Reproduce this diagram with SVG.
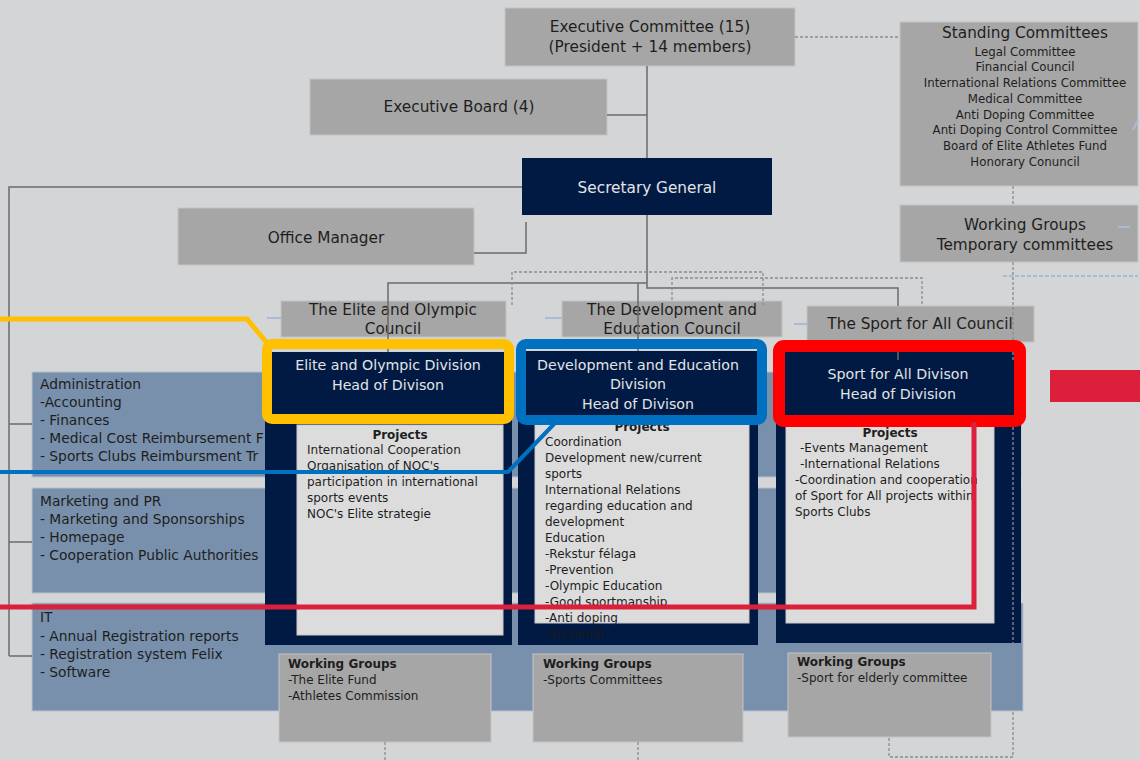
<svg xmlns="http://www.w3.org/2000/svg" width="1140" height="760" viewBox="0 0 1140 760">
<defs>
<style>
text{font-family:"DejaVu Sans","Liberation Sans",sans-serif;fill:#1e1e1e}
.gbox{fill:#a6a6a6;stroke:#c4c4c4;stroke-width:1}
.navy{fill:#001a44}
.inner{fill:#dcdcdc;stroke:#c8c8c8;stroke-width:1}
.row{fill:#7890ab;stroke:#b8c2ce;stroke-width:1}
.t15{font-size:15.3px;text-anchor:middle}
.t14w{font-size:14.2px;text-anchor:middle;fill:#e4e4e4}
.sc{font-size:11.8px;text-anchor:middle}
.p{font-size:12px}
.pb{font-size:12px;font-weight:bold}
.l{font-size:13.8px}
.solid{fill:none;stroke:#6b6b6b;stroke-width:1.5}
.dash{fill:none;stroke:#8c8c8c;stroke-width:1.3;stroke-dasharray:3 2}
.lb{fill:none;stroke:#a9bcd5;stroke-width:2}
</style>
<clipPath id="c3"><rect x="786" y="420" width="191" height="203"/></clipPath>
</defs>
<rect width="1140" height="760" fill="#d4d5d7"/>

<g id="rows">
<rect class="row" x="32" y="372" width="989" height="105"/>
<rect class="row" x="32" y="488" width="989" height="105"/>
<rect class="row" x="32" y="603" width="991" height="108"/>
</g>

<g id="administration">
<text class="l" x="40" y="389">Administration</text>
<text class="l" x="40" y="407">-Accounting</text>
<text class="l" x="40" y="425">-  Finances</text>
<text class="l" x="40" y="443">- Medical Cost Reimbursement F</text>
<text class="l" x="40" y="461">-  Sports Clubs Reimbursment Tr</text>
</g>
<g id="marketing">
<text class="l" x="40" y="506">Marketing and PR</text>
<text class="l" x="40" y="524">-  Marketing and Sponsorships</text>
<text class="l" x="40" y="542">-  Homepage</text>
<text class="l" x="40" y="560">-  Cooperation Public Authorities</text>
</g>
<g id="it">
<text class="l" x="40" y="622">IT</text>
<text class="l" x="40" y="641">-  Annual Registration reports</text>
<text class="l" x="40" y="659">-  Registration system Felix</text>
<text class="l" x="40" y="677">-  Software</text>
</g>

<g id="elite-column">
<rect class="navy" x="265" y="352" width="247" height="293"/>
<rect class="inner" x="297" y="425" width="206" height="210"/>
<text class="pb" x="400" y="439" text-anchor="middle">Projects</text>
<text class="p" x="307" y="454">International Cooperation</text>
<text class="p" x="307" y="470">Organisation of NOC's</text>
<text class="p" x="307" y="486">participation in international</text>
<text class="p" x="307" y="502">sports events</text>
<text class="p" x="307" y="518">NOC's Elite strategie</text>
</g>
<g id="development-column">
<rect class="navy" x="518" y="351" width="240" height="294"/>
<rect class="inner" x="535" y="420" width="214" height="203"/>
<text class="pb" x="642" y="431" text-anchor="middle">Projects</text>
<text class="p" x="545" y="446">Coordination</text>
<text class="p" x="545" y="462">Development new/current</text>
<text class="p" x="545" y="478">sports</text>
<text class="p" x="545" y="494">International Relations</text>
<text class="p" x="545" y="510">regarding education and</text>
<text class="p" x="545" y="526">development</text>
<text class="p" x="545" y="542">Education</text>
<text class="p" x="545" y="558">-Rekstur félaga</text>
<text class="p" x="545" y="574">-Prevention</text>
<text class="p" x="545" y="590">-Olympic Education</text>
<text class="p" x="545" y="606">-Good sportmanship</text>
<text class="p" x="545" y="622">-Anti doping</text>
<text class="p" x="545" y="638" style="fill:#1a1a1a">-Slysamál</text>
</g>
<g id="sport-column">
<rect class="navy" x="776" y="352" width="245" height="291"/>
<rect class="inner" x="786" y="420" width="208" height="203"/>
<g clip-path="url(#c3)">
<text class="pb" x="890" y="437" text-anchor="middle">Projects</text>
<text class="p" x="800" y="452">-Events Management</text>
<text class="p" x="800" y="468">-International Relations</text>
<text class="p" x="795" y="484">-Coordination and cooperation</text>
<text class="p" x="795" y="500">of Sport for All projects within</text>
<text class="p" x="795" y="516">Sports Clubs</text>
</g>
</g>

<g id="working-groups-elite">
<rect class="gbox" x="279" y="654" width="212" height="88"/>
<text class="pb" x="288" y="668">Working Groups</text>
<text class="p" x="288" y="684">-The Elite Fund</text>
<text class="p" x="288" y="700">-Athletes Commission</text>
</g>
<g id="working-groups-development">
<rect class="gbox" x="533" y="654" width="210" height="88"/>
<text class="pb" x="543" y="668">Working Groups</text>
<text class="p" x="543" y="684">-Sports Committees</text>
</g>
<g id="working-groups-sport">
<rect class="gbox" x="788" y="653" width="203" height="84"/>
<text class="pb" x="797" y="666">Working Groups</text>
<text class="p" x="797" y="682">-Sport for elderly committee</text>
</g>

<g id="executive-committee">
<rect class="gbox" x="505" y="8" width="290" height="58"/>
<text class="t15" x="650" y="32">Executive Committee (15)</text>
<text class="t15" x="650" y="52">(President + 14 members)</text>
</g>
<g id="executive-board">
<rect class="gbox" x="310" y="79" width="297" height="56"/>
<text class="t15" x="459" y="112">Executive Board (4)</text>
</g>
<g id="secretary-general">
<rect class="navy" x="522" y="158" width="250" height="57"/>
<text class="t15" x="647" y="193" style="fill:#e4e4e4">Secretary General</text>
</g>
<g id="office-manager">
<rect class="gbox" x="178" y="208" width="296" height="57"/>
<text class="t15" x="326" y="243">Office Manager</text>
</g>
<g id="standing-committees">
<rect class="gbox" x="900" y="22" width="238" height="164"/>
<text class="t15" x="1025" y="38">Standing Committees</text>
<text class="sc" x="1025" y="56">Legal Committee</text>
<text class="sc" x="1025" y="71">Financial Council</text>
<text class="sc" x="1025" y="87">International Relations Committee</text>
<text class="sc" x="1025" y="103">Medical Committee</text>
<text class="sc" x="1025" y="119">Anti Doping Committee</text>
<text class="sc" x="1025" y="134">Anti Doping Control Committee</text>
<text class="sc" x="1025" y="150">Board of Elite Athletes Fund</text>
<text class="sc" x="1025" y="166">Honorary Conuncil</text>
</g>
<g id="working-groups-temporary">
<rect class="gbox" x="900" y="205" width="238" height="57"/>
<text class="t15" x="1025" y="230">Working Groups</text>
<text class="t15" x="1025" y="250">Temporary committees</text>
</g>

<g id="elite-council">
<rect class="gbox" x="281" y="301" width="225" height="36"/>
<text class="t15" x="393" y="315">The Elite and Olympic</text>
<text class="t15" x="393" y="334">Council</text>
</g>
<g id="development-council">
<rect class="gbox" x="562" y="301" width="220" height="36"/>
<text class="t15" x="672" y="315">The Development and</text>
<text class="t15" x="672" y="334">Education Council</text>
</g>
<g id="sport-council">
<rect class="gbox" x="807" y="306" width="227" height="36"/>
<text class="t15" x="920" y="329">The Sport for All Council</text>
</g>

<g id="connectors">
<path class="solid" d="M647,66 V158 M607,115 H647 M647,215 V288 H898 V306 M898,342 V360 M388,352 V283 H647 M638,283 V352"/>
<path class="solid" d="M522,187 H9 V656 M9,424 H32 M9,542 H32 M9,656 H32"/>
<path class="solid" d="M474,253 H526 V222"/>
<path class="dash" d="M795,37 H900 M1013,186 V205 M1013,262 V757 H889 V737 M512,305 V272 H763 V305 M672,300 V278 H922 V306 M385,742 V760 M638,742 V760"/>
<path class="lb" d="M1003,276 H1138" stroke-dasharray="4 2"/>
<path class="lb" d="M267,318 H281 M545,318 H562 M794,324 H807 M1118,227 H1130 M1133,130 L1138,120"/>
</g>

<g id="elite-division">
<rect class="navy" x="274" y="352" width="229" height="61"/>
<text class="t14w" x="388" y="370">Elite and Olympic Division</text>
<text class="t14w" x="388" y="390">Head of Divison</text>
</g>
<g id="development-division">
<rect class="navy" x="527" y="351" width="230" height="62"/>
<text class="t14w" x="638" y="370">Development and Education</text>
<text class="t14w" x="638" y="389">Division</text>
<text class="t14w" x="638" y="409">Head of Divison</text>
</g>
<g id="sport-division">
<rect class="navy" x="786" y="360" width="228" height="55"/>
<text class="t14w" x="898" y="379">Sport for All Divison</text>
<text class="t14w" x="898" y="399">Head of Division</text>
</g>

<g id="highlights">
<rect x="267" y="344" width="242" height="75" rx="5" fill="none" stroke="#ffc000" stroke-width="10"/>
<path d="M0,319 H247 L267,343" fill="none" stroke="#ffc000" stroke-width="5"/>
<rect x="521" y="344" width="241" height="76" rx="5" fill="none" stroke="#0070c0" stroke-width="10"/>
<path d="M0,472 H508 L555,423" fill="none" stroke="#0070c0" stroke-width="4"/>
<rect x="779" y="346" width="241" height="75" rx="5" fill="none" stroke="#ff0000" stroke-width="12"/>
<path d="M0,607 H974 V422" fill="none" stroke="#dc1f3a" stroke-width="5"/>
<rect x="1050" y="370" width="90" height="32" fill="#dc1f3a"/>
</g>
</svg>
